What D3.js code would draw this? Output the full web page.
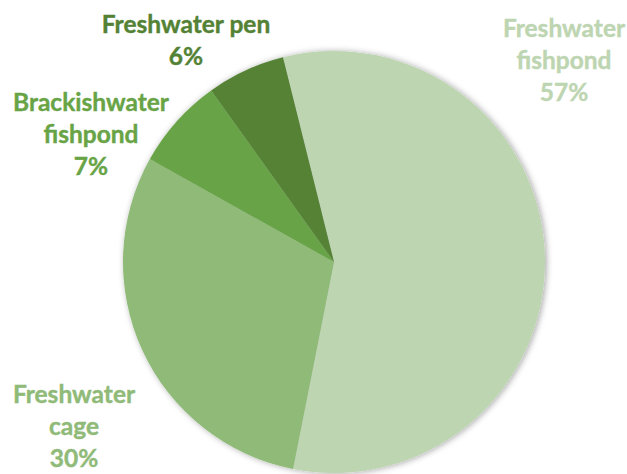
<!DOCTYPE html>
<html>
<head>
<meta charset="utf-8">
<script src="https://cdn.jsdelivr.net/npm/d3@7"></script>
<style>
  html, body { margin: 0; padding: 0; background: #fff; }
  svg { display: block; }
  text { font-family: "Lato", "Open Sans", sans-serif; font-weight: 700; }
</style>
</head>
<body>
<script>
// Share of production by culture environment
const categories = ["Freshwater fishpond", "Freshwater cage", "Brackishwater fishpond", "Freshwater pen"];
const values = [57, 30, 7, 6];
const colors = ["#BDD5B1", "#8FBA78", "#68A446", "#548235"];
// Label lines for each slice and their anchor points
const labelLines = [
  ["Freshwater", "fishpond", "57%"],
  ["Freshwater", "cage", "30%"],
  ["Brackishwater", "fishpond", "7%"],
  ["Freshwater pen", "6%"]
];
const labelPos = [[564, 37], [74, 403], [91, 111], [186, 33]];

const W = 627, H = 474;
const cx = 334, cy = 262, R = 211;
const startDeg = -14;

const svg = d3.select("body").append("svg").attr("width", W).attr("height", H);

const defs = svg.append("defs");
const f = defs.append("filter").attr("id", "pieShadow")
  .attr("x", "-10%").attr("y", "-10%").attr("width", "120%").attr("height", "120%");
f.append("feDropShadow").attr("dx", 1.5).attr("dy", 0.5)
  .attr("stdDeviation", 3).attr("flood-color", "#000").attr("flood-opacity", 0.35);

const pie = d3.pie().sort(null).value(d => d)
  .startAngle(startDeg * Math.PI / 180)
  .endAngle((startDeg + 360) * Math.PI / 180);
const arc = d3.arc().innerRadius(0).outerRadius(R);

const color = d3.scaleOrdinal().domain(categories).range(colors);

const g = svg.append("g").attr("transform", `translate(${cx},${cy})`)
  .attr("filter", "url(#pieShadow)");
g.selectAll("path").data(pie(values)).join("path")
  .attr("d", arc)
  .attr("fill", (d, i) => color(categories[i]));

const lineH = 32;
const fontSize = 24.5;
categories.forEach((c, i) => {
  const t = svg.append("text")
    .attr("x", labelPos[i][0]).attr("y", labelPos[i][1])
    .attr("text-anchor", "middle")
    .attr("font-size", fontSize)
    .attr("fill", color(c))
    .attr("stroke", color(c))
    .attr("stroke-width", 0.4);
  labelLines[i].forEach((ln, j) => {
    t.append("tspan").attr("x", labelPos[i][0]).attr("y", labelPos[i][1] + j * lineH).text(ln);
  });
});
</script>
</body>
</html>
